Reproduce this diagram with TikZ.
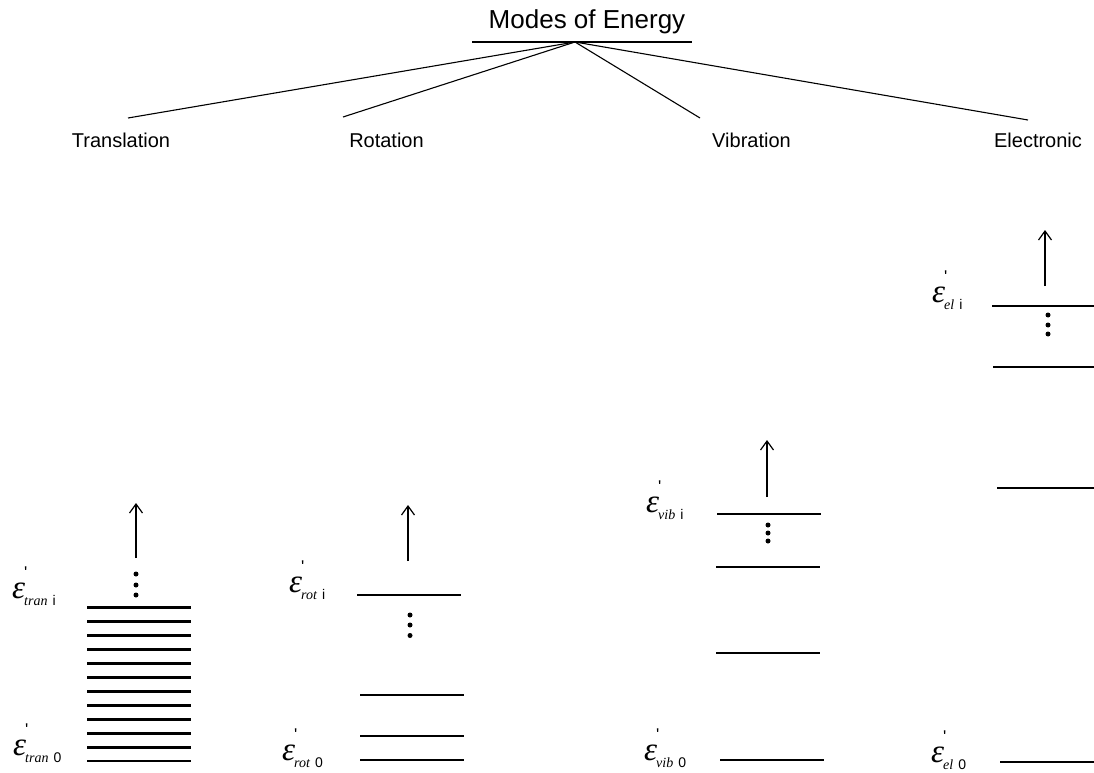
\documentclass[tikz,border=0pt]{standalone}
\usepackage{fontspec}
\setmainfont{Liberation Sans}
\newfontfamily\epsfont{Liberation Serif}
\usetikzlibrary{arrows.meta}
\newcommand\elab[2]{{\epsfont\itshape\fontsize{33}{33}\selectfont ε}\kern-1pt\rlap{\raisebox{20pt}{\fontsize{17}{17}\selectfont\textquotesingle}}\raisebox{-7pt}{\fontsize{14}{14}\selectfont{\epsfont\itshape #1}\hspace{5pt}#2}}
\tikzset{
  level/.style={line width=2.9pt},
  branch/.style={line width=1.1pt},
  up/.style={line width=1.2pt,-{Straight Barb[length=9pt,width=13pt]}},
  mode/.style={anchor=base,inner sep=0pt,font=\fontsize{20}{20}\selectfont},
  elabel/.style={anchor=base west,inner sep=0pt},
  dot/.style={circle,fill=black,inner sep=0pt,minimum size=5pt}
}
\begin{document}
\begin{tikzpicture}[x=1pt,y=-1pt]
\useasboundingbox[fill=white] (0,0) rectangle (1094,773);
% title
\node[anchor=base,inner sep=0pt,font=\fontsize{26}{26}\selectfont] (title) at (587,29) {Modes of Energy};
\coordinate (ulL) at (472,42);
\coordinate (ulR) at (692,42);
\coordinate (apex) at (575,42);
\draw[branch] (ulL) -- (ulR);
% modes
\node[mode] (trans) at (121,147) {Translation};
\node[mode] (rot) at (386.5,147) {Rotation};
\node[mode] (vib) at (751.5,147) {Vibration};
\node[mode] (elec) at (1038,147) {Electronic};
\coordinate (tT) at (128,118);
\coordinate (tR) at (343,117);
\coordinate (tV) at (700,118);
\coordinate (tE) at (1028,120);
\foreach \c in {tT,tR,tV,tE} \draw[branch] (apex) -- (\c);
% translation levels
\foreach \k in {0,...,11} \draw[level] (87,{607.7+\k*13.94}) -- (191,{607.7+\k*13.94});
\foreach \y [count=\i] in {574,585,595} \node[dot] (dT\i) at (136,\y) {};
\coordinate (aT0) at (136,558); \coordinate (aT1) at (136,503);
\draw[up] (aT0) -- (aT1);
\node[elabel] (eTi) at (12,598) {\elab{tran}{i}};
\node[elabel] (eT0) at (13,755) {\elab{tran}{0}};
% rotation levels
\draw[level] (357,595) -- (461,595);
\foreach \y in {695,736,760} \draw[level] (360,\y) -- (464,\y);
\foreach \y [count=\i] in {615,625,635.5} \node[dot] (dR\i) at (410,\y) {};
\coordinate (aR0) at (408,561); \coordinate (aR1) at (408,505);
\draw[up] (aR0) -- (aR1);
\node[elabel] (eRi) at (289,592) {\elab{rot}{i}};
\node[elabel] (eR0) at (282,760) {\elab{rot}{0}};
% vibration levels
\draw[level] (717,514) -- (821,514);
\draw[level] (716,567) -- (820,567);
\draw[level] (716,653) -- (820,653);
\draw[level] (720,760) -- (824,760);
\foreach \y [count=\i] in {525,533,541} \node[dot] (dV\i) at (768,\y) {};
\coordinate (aV0) at (767,497); \coordinate (aV1) at (767,440);
\draw[up] (aV0) -- (aV1);
\node[elabel] (eVi) at (646,512) {\elab{vib}{i}};
\node[elabel] (eV0) at (644,760) {\elab{vib}{0}};
% electronic levels
\draw[level] (992,306) -- (1094,306);
\draw[level] (993,367) -- (1094,367);
\draw[level] (997,488) -- (1094,488);
\draw[level] (1000,762) -- (1094,762);
\foreach \y [count=\i] in {315,325,334} \node[dot] (dE\i) at (1048,\y) {};
\coordinate (aE0) at (1045,286); \coordinate (aE1) at (1045,230);
\draw[up] (aE0) -- (aE1);
\node[elabel] (eEi) at (932,302) {\elab{el}{i}};
\node[elabel] (eE0) at (931,762) {\elab{el}{0}};
\end{tikzpicture}
\end{document}
